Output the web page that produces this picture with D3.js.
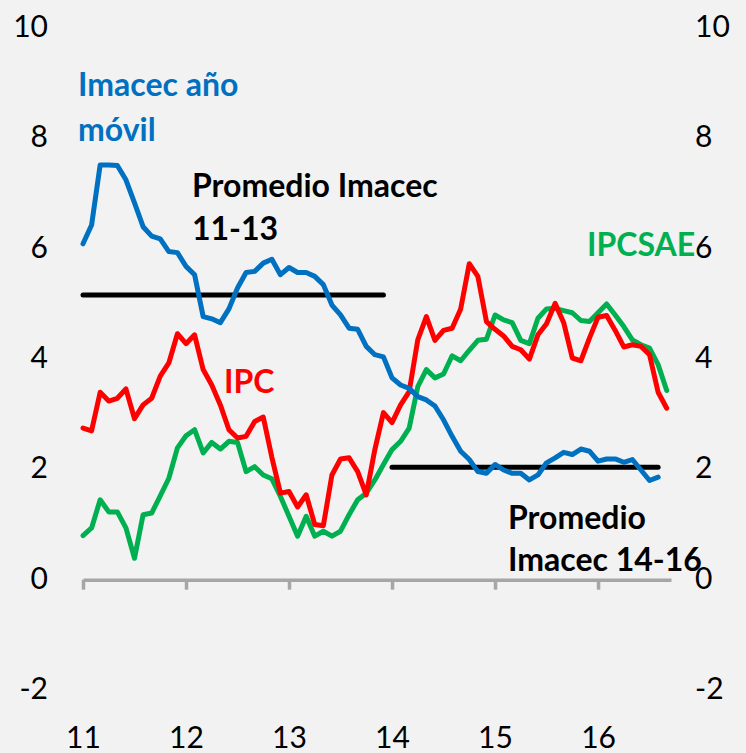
<!DOCTYPE html>
<html><head><meta charset="utf-8">
<script src="https://cdn.jsdelivr.net/npm/d3@7"></script>
<style>
html,body{margin:0;padding:0;background:#F2F2F2;}
svg{display:block;}
text{font-family:Lato,"Open Sans",sans-serif;}
</style></head>
<body>
<svg id="chart" width="746" height="753"></svg>
<script>
// Monthly data, Jan 2011 onwards
const imacec = [6.07,6.41,7.50,7.50,7.49,7.23,6.81,6.38,6.21,6.16,5.93,5.91,
  5.66,5.51,4.75,4.71,4.64,4.89,5.27,5.55,5.57,5.72,5.79,5.51,
  5.64,5.55,5.55,5.48,5.33,4.96,4.78,4.54,4.52,4.21,4.06,4.02,
  3.64,3.51,3.45,3.30,3.24,3.13,2.88,2.58,2.31,2.16,1.94,1.91,
  2.07,1.97,1.91,1.91,1.79,1.88,2.10,2.19,2.29,2.25,2.35,2.31,
  2.13,2.17,2.17,2.11,2.16,1.97,1.78,1.84];
const ipc = [2.73,2.68,3.38,3.22,3.27,3.44,2.90,3.15,3.27,3.67,3.91,4.44,
  4.26,4.42,3.79,3.51,3.15,2.70,2.55,2.58,2.85,2.93,2.20,1.55,
  1.58,1.30,1.52,0.98,0.96,1.88,2.17,2.19,1.94,1.52,2.34,3.01,
  2.83,3.15,3.39,4.33,4.75,4.32,4.50,4.54,4.89,5.71,5.48,4.66,
  4.52,4.40,4.21,4.15,3.98,4.42,4.62,4.99,4.64,4.00,3.95,4.36,
  4.74,4.77,4.50,4.20,4.24,4.21,4.06,3.38,3.09];
const ipcsae = [0.78,0.92,1.43,1.21,1.21,0.92,0.37,1.16,1.19,1.50,1.82,2.37,
  2.59,2.70,2.28,2.47,2.35,2.49,2.47,1.94,2.03,1.88,1.81,1.49,
  1.13,0.77,1.13,0.77,0.86,0.77,0.86,1.16,1.43,1.55,1.79,2.07,
  2.34,2.49,2.73,3.48,3.79,3.64,3.71,4.04,3.95,4.14,4.32,4.34,
  4.78,4.69,4.64,4.32,4.26,4.72,4.89,4.90,4.86,4.82,4.68,4.66,
  4.82,4.98,4.78,4.57,4.33,4.24,4.18,3.88,3.41];
const avg1113 = 5.14;   // promedio Imacec 2011-2013
const avg1416 = 2.02;   // promedio Imacec 2014-2016
const avg1113Range = [0, 35];
const avg1416Range = [36, 67];
const yearLabels = ["11","12","13","14","15","16"];
const yearTickIdx = [0,12,24,36,48,60];
const yTicks = [-2,0,2,4,6,8,10];

const svg = d3.select("#chart");
svg.append("rect").attr("width",746).attr("height",753).attr("fill","#F2F2F2");

const x = d3.scaleLinear().domain([0, 68.5]).range([83, 671]);
const y = d3.scaleLinear().domain([-2, 10]).range([689, 27]);

const FS = 30;
const FSB = 32;
const fmt = d => String(d);
// left axis labels
const yl = svg.append("g").attr("transform","translate(50,0)")
  .call(d3.axisLeft(y).tickValues(yTicks).tickSize(0).tickPadding(2).tickFormat(fmt));
yl.select(".domain").remove();
yl.selectAll("text").attr("font-size",FS).attr("fill","#000").attr("font-family","Lato");
// right axis labels
const yr = svg.append("g").attr("transform","translate(693,0)")
  .call(d3.axisRight(y).tickValues(yTicks).tickSize(0).tickPadding(2).tickFormat(fmt));
yr.select(".domain").remove();
yr.selectAll("text").attr("font-size",FS).attr("fill","#000").attr("font-family","Lato");

// x axis at y=0
const xa = svg.append("g").attr("transform",`translate(0,${y(0)+1})`)
  .call(d3.axisBottom(x).tickValues(yearTickIdx).tickSizeInner(10).tickSizeOuter(0)
    .tickPadding(137).tickFormat((d,i)=>yearLabels[i]));
xa.select(".domain").attr("stroke","#A6A6A6").attr("stroke-width",3.5);
xa.selectAll(".tick line").attr("stroke","#A6A6A6").attr("stroke-width",3.5);
xa.selectAll("text").attr("font-size",FS).attr("fill","#000").attr("font-family","Lato");

// average lines
const avgLine = d3.line().x(d=>x(d[0])).y(d=>y(d[1]));
svg.append("path").datum([[avg1113Range[0],avg1113],[avg1113Range[1],avg1113]])
  .attr("d",avgLine).attr("stroke","#000").attr("stroke-width",5).attr("stroke-linecap","round").attr("fill","none");
svg.append("path").datum([[avg1416Range[0],avg1416],[avg1416Range[1],avg1416]])
  .attr("d",avgLine).attr("stroke","#000").attr("stroke-width",5).attr("stroke-linecap","round").attr("fill","none");

const line = d3.line().x((d,i)=>x(i)).y(d=>y(d));
const series = [
  {data: ipcsae, color:"#00B050"},
  {data: ipc, color:"#FF0000"},
  {data: imacec, color:"#0070C0"}
];
series.forEach(s=>{
  svg.append("path").datum(s.data).attr("d",line).attr("fill","none")
    .attr("stroke",s.color).attr("stroke-width",5).attr("stroke-linejoin","round").attr("stroke-linecap","round");
});

// annotations
function label(lines, x0, y0, color, lh){
  const t = svg.append("text").attr("x",x0).attr("y",y0).attr("fill",color)
    .attr("font-size",FSB).attr("font-weight","bold").attr("font-family","Lato");
  lines.forEach((l,i)=>t.append("tspan").attr("x",x0).attr("dy", i===0?0:lh).text(l));
}
label(["Imacec año","móvil"], 78, 96, "#0070C0", 45);
label(["Promedio Imacec","11-13"], 192, 197, "#000", 43);
label(["IPC"], 224, 393, "#FF0000", 0);
label(["IPCSAE"], 587, 256, "#00B050", 0);
label(["Promedio","Imacec 14-16"], 508, 529, "#000", 42);
</script>
</body></html>
